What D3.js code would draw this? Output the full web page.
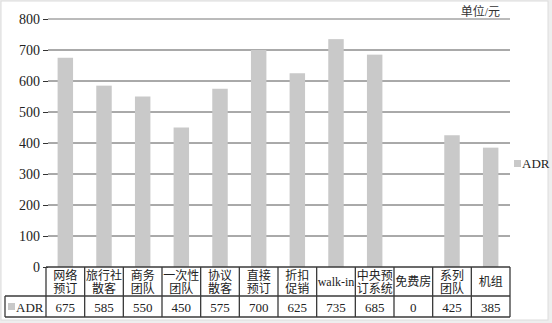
<!DOCTYPE html>
<html>
<head>
<meta charset="utf-8">
<script src="https://cdn.jsdelivr.net/npm/d3@7"></script>
<style>
  body { margin: 0; background: #fff; }
  svg { display: block; }
</style>
</head>
<body>
<script>
// chart data
const categories = [
    ["网络", "预订"], ["旅行社", "散客"], ["商务", "团队"], ["一次性", "团队"],
    ["协议", "散客"], ["直接", "预订"], ["折扣", "促销"], ["walk-in"],
    ["中央预", "订系统"], ["免费房"], ["系列", "团队"], ["机组"]
];
const adr = [675, 585, 550, 450, 575, 700, 625, 735, 685, 0, 425, 385];
const yTicks = [0, 100, 200, 300, 400, 500, 600, 700, 800];
const seriesName = "ADR";
const unitLabel = "单位/元";

const w = 552;
const h = 323;
const plotLeft = 46, plotRight = 510;
const plotTop = 19, plotBottom = 267;
const headRowBottom = 296, tableBottom = 317;
const serif = "'Liberation Serif', 'Noto Sans CJK SC', serif";
const barColor = "#c9c9c9";
const lineColor = "#3a3a3a";

const svg = d3.select("body")
    .append("svg")
    .attr("width", w)
    .attr("height", h);

// page frame
svg.append("rect")
    .attr("x", 0).attr("y", 0)
    .attr("width", w).attr("height", h)
    .attr("fill", "#eeeeee");
svg.append("rect")
    .attr("x", 1).attr("y", 1)
    .attr("width", 547).attr("height", 319)
    .attr("fill", "#fff")
    .attr("stroke", "#dcdcdc");

const idx = d3.range(categories.length);

const xScale = d3.scaleBand()
    .domain(idx)
    .range([plotLeft, plotRight])
    .paddingInner(0.6)
    .paddingOuter(0.3);

const yScale = d3.scaleLinear()
    .domain([0, 800])
    .range([plotBottom, plotTop]);

// gridlines
svg.append("g")
    .selectAll("line")
    .data(yTicks.slice(1))
    .enter()
    .append("line")
    .attr("x1", 48)
    .attr("x2", plotRight)
    .attr("y1", d => yScale(d))
    .attr("y2", d => yScale(d))
    .attr("stroke", d => d === 800 ? "#777" : "#555")
    .attr("stroke-width", 1);

// y axis (no domain line)
const yAxis = svg.append("g")
    .attr("transform", "translate(48,0)")
    .call(d3.axisLeft(yScale).tickValues(yTicks).tickSize(5).tickPadding(3));
yAxis.select(".domain").remove();
yAxis.selectAll("line").attr("stroke", "#333");
yAxis.selectAll("text")
    .attr("font-family", serif)
    .attr("font-size", 14)
    .attr("fill", "#222");

// bars
svg.append("g")
    .selectAll("rect")
    .data(adr)
    .enter()
    .append("rect")
    .attr("x", (d, i) => xScale(i))
    .attr("width", xScale.bandwidth())
    .attr("y", d => yScale(d))
    .attr("height", d => yScale(0) - yScale(d))
    .attr("fill", barColor);

// unit label
svg.append("text")
    .attr("x", 500)
    .attr("y", 16)
    .attr("text-anchor", "end")
    .attr("font-family", serif)
    .attr("font-size", 12)
    .attr("fill", "#333")
    .text(unitLabel);

// legend
svg.append("rect")
    .attr("x", 514).attr("y", 160)
    .attr("width", 7).attr("height", 7)
    .attr("fill", barColor);
svg.append("text")
    .attr("x", 522)
    .attr("y", 168)
    .attr("font-family", serif)
    .attr("font-size", 13)
    .attr("fill", "#222")
    .text(seriesName);

// data table
const step = xScale.step();
const colLeft = i => plotLeft + i * step;
const table = svg.append("g")
    .attr("stroke", lineColor)
    .attr("stroke-width", 1.3)
    .attr("fill", "none");

table.append("line").attr("x1", plotLeft).attr("x2", plotRight).attr("y1", plotBottom).attr("y2", plotBottom);
table.append("line").attr("x1", 5).attr("x2", plotRight).attr("y1", headRowBottom).attr("y2", headRowBottom);
table.append("line").attr("x1", 5).attr("x2", plotRight).attr("y1", tableBottom).attr("y2", tableBottom);
table.append("line").attr("x1", 5).attr("x2", 5).attr("y1", headRowBottom).attr("y2", tableBottom);
table.selectAll(".col")
    .data(d3.range(categories.length + 1))
    .enter()
    .append("line")
    .attr("x1", i => colLeft(i))
    .attr("x2", i => colLeft(i))
    .attr("y1", plotBottom)
    .attr("y2", tableBottom);

// category labels
const labels = svg.append("g")
    .attr("font-family", serif)
    .attr("font-size", 12)
    .attr("fill", "#222")
    .attr("text-anchor", "middle");

categories.forEach(function (lines, i) {
    const cx = colLeft(i) + step / 2;
    const t = labels.append("text");
    if (lines.length === 1) {
        t.attr("x", cx).attr("y", 286).text(lines[0]);
    } else {
        t.append("tspan").attr("x", cx).attr("y", 280).text(lines[0]);
        t.append("tspan").attr("x", cx).attr("y", 293).text(lines[1]);
    }
});

// value row
labels.selectAll(".val")
    .data(adr)
    .enter()
    .append("text")
    .attr("x", (d, i) => colLeft(i) + step / 2)
    .attr("y", 312)
    .attr("font-size", 13)
    .text(d => d);

svg.append("rect")
    .attr("x", 8).attr("y", 303)
    .attr("width", 7).attr("height", 7)
    .attr("fill", barColor);
svg.append("text")
    .attr("x", 16)
    .attr("y", 312)
    .attr("font-family", serif)
    .attr("font-size", 13)
    .attr("fill", "#222")
    .text(seriesName);
</script>
</body>
</html>
